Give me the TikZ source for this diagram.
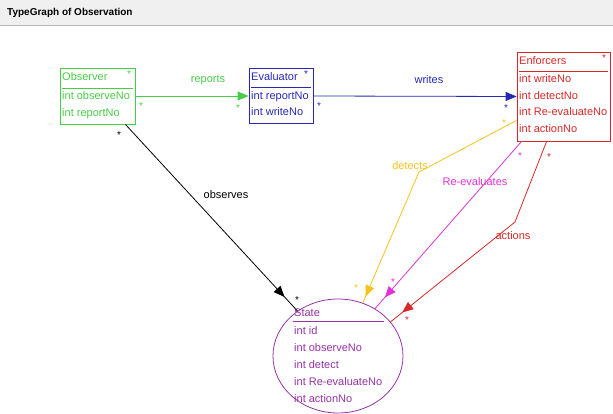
\documentclass[tikz,border=0pt]{standalone}
\usepackage{fontspec}
\setmainfont{Liberation Sans}
\usetikzlibrary{arrows.meta,decorations.markings,shapes.geometric,calc}
\definecolor{cgreen}{RGB}{70,205,70}
\definecolor{cblue}{RGB}{40,40,180}
\definecolor{cred}{RGB}{215,40,40}
\definecolor{cpurple}{RGB}{150,50,165}
\definecolor{cyellow}{RGB}{245,195,30}
\definecolor{cmag}{RGB}{225,50,215}
\tikzset{
  classbox/.style={draw=#1, line width=0.8pt, inner sep=0pt},
  txt/.style={font=\fontsize{11}{13}\selectfont, inner sep=0pt, anchor=west, text height=8pt, text depth=2pt},
  lbl/.style={font=\fontsize{11}{13}\selectfont, inner sep=0pt},
  star/.style={font=\fontsize{10}{11}\selectfont, inner sep=0pt},
  conn/.style={line width=0.8pt},
  tipmark/.style={postaction={decorate}, decoration={markings,
     mark=at position #1 with {\arrow{Triangle[length=11pt,width=9pt]}}}},
  endtip/.style={-{Triangle[length=11pt,width=9pt]}}
}
\begin{document}
\begin{tikzpicture}[x=1pt,y=-1pt]
\useasboundingbox (0,0) rectangle (613,414);
% title bar
\fill[gray!12] (0,0) rectangle (613,25);
\draw[gray!55, line width=1.2pt] (0,25.5) -- (613,25.5);
\node[anchor=west, inner sep=0pt, font=\bfseries\fontsize{10}{12}\selectfont] (title) at (7,13) {TypeGraph of Observation};

% Observer
\node[classbox=cgreen, minimum width=75pt, minimum height=56pt] (obs) at (97.5,96) {};
\node[txt, text=cgreen] (obsh) at (62,78) {Observer};
\draw[cgreen, line width=0.8pt] (62,88) -- (133,88);
\node[txt, text=cgreen] (obs1) at (62,97) {int observeNo};
\node[txt, text=cgreen] (obs2) at (62,114) {int reportNo};
\node[star, text=cgreen] (obss) at (129,74) {*};

% Evaluator
\node[classbox=cblue, minimum width=64pt, minimum height=55pt] (eval) at (281,96) {};
\node[txt, text=cblue] (evalh) at (251,78) {Evaluator};
\draw[cblue, line width=0.8pt] (251,87) -- (311,87);
\node[txt, text=cblue] (eval1) at (251,97) {int reportNo};
\node[txt, text=cblue] (eval2) at (251,113) {int writeNo};
\node[star, text=cblue] (evals) at (306,74) {*};

% Enforcers
\node[classbox=cred, minimum width=93pt, minimum height=89pt] (enf) at (563.5,96.5) {};
\node[txt, text=cred] (enfh) at (519,62) {Enforcers};
\draw[cred, line width=0.8pt] (519,71) -- (608,71);
\node[txt, text=cred] (enf1) at (519,80) {int writeNo};
\node[txt, text=cred] (enf2) at (519,97) {int detectNo};
\node[txt, text=cred] (enf3) at (519,113) {int Re-evaluateNo};
\node[txt, text=cred] (enf4) at (519,130) {int actionNo};
\node[star, text=cred] (enfs) at (604,58) {*};

% State
\node[ellipse, draw=cpurple, line width=0.8pt, minimum width=130pt, minimum height=114pt, inner sep=0pt] (state) at (338,356) {};
\node[txt, text=cpurple] (sth) at (294,313) {State};
\draw[cpurple, line width=0.8pt] (293,321) -- (384,321);
\node[txt, text=cpurple] (st1) at (294,331) {int id};
\node[txt, text=cpurple] (st2) at (294,348) {int observeNo};
\node[txt, text=cpurple] (st3) at (294,365) {int detect};
\node[txt, text=cpurple] (st4) at (294,382) {int Re-evaluateNo};
\node[txt, text=cpurple] (st5) at (294,399) {int actionNo};

% reports
\draw[conn, cgreen, endtip] (obs.east) -- (eval.west);
\node[lbl, text=cgreen] (lrep) at (208,80) {reports};
\node[star, text=cgreen] (srep1) at (141,106) {*};
\node[star, text=cgreen] (srep2) at (238,108) {*};

% writes
\draw[conn, cblue, endtip] (eval.east) -- (enf.west);
\node[lbl, text=cblue] (lwri) at (429,80) {writes};
\node[star, text=cblue] (swri1) at (319,106) {*};
\node[star, text=cblue] (swri2) at (506,108) {*};

% observes
\draw[conn, black, tipmark=-19pt] ($(obs.south east)+(-10,0)$) -- (state.132);
\node[lbl, text=black] (lobs) at (226,195) {observes};
\node[star, text=black] (sobs1) at (119,135) {*};
\node[star, text=black] (sobs2) at (297,300) {*};

% detects
\draw[conn, cyellow, tipmark=-7pt] ($(enf.south west)+(0,-21)$) -- (419,172) -- (state.65);
\node[lbl, text=cyellow] (ldet) at (410,166) {detects};
\node[star, text=cyellow] (sdet1) at (504,123) {*};
\node[star, text=cyellow] (sdet2) at (356,288) {*};

% Re-evaluates
\draw[conn, cmag, tipmark=-15pt] ($(enf.south west)+(5,0)$) -- (state.52);
\node[lbl, text=cmag] (lree) at (475,182) {Re-evaluates};
\node[star, text=cmag] (sree1) at (520,156) {*};
\node[star, text=cmag] (sree2) at (393,282) {*};

% actions
\draw[conn, cred, tipmark=-15pt] ($(enf.south west)+(30,0)$) -- (515,222) -- (state.33);
\node[lbl, text=cred] (lact) at (513,236) {actions};
\node[star, text=cred] (sact1) at (549,157) {*};
\node[star, text=cred] (sact2) at (407,320) {*};
\end{tikzpicture}
\end{document}
